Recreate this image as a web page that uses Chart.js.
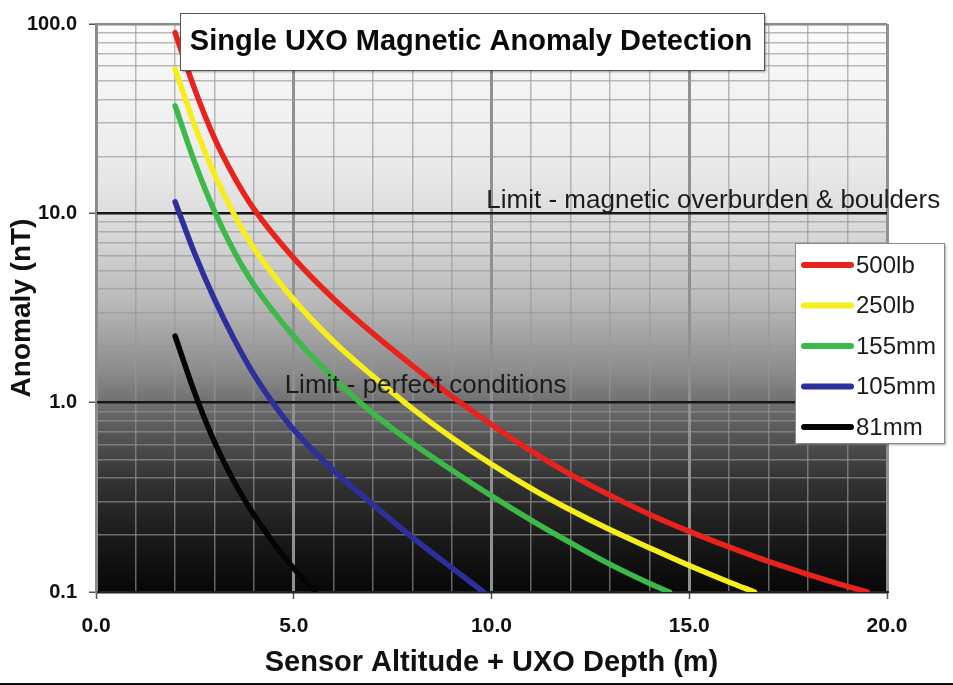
<!DOCTYPE html>
<html>
<head>
<meta charset="utf-8">
<title>Single UXO Magnetic Anomaly Detection</title>
<script src="https://cdn.jsdelivr.net/npm/chart.js@4.4.1/dist/chart.umd.min.js"></script>
<style>
  body { margin: 0; background: #fff; }
  #wrap { width: 953px; height: 685px; }
</style>
</head>
<body>
<div id="wrap"><canvas id="uxoChart" width="953" height="685"></canvas></div>
<script>
// series: depth (m) -> anomaly (nT)
const seriesNames = ['500lb', '250lb', '155mm', '105mm', '81mm']

const depth500 = [2, 2.5, 3, 3.5, 4, 5, 6, 7, 8, 9, 10, 11, 12, 13, 14, 15, 16, 17, 18, 19, 19.5]
const anomaly500 = [90, 45, 24.8, 15.5, 10.5, 5.8, 3.55, 2.32, 1.57, 1.08, 0.767, 0.556, 0.417, 0.324, 0.257, 0.209, 0.173, 0.145, 0.124, 0.107, 0.1]

const depth250 = [2, 2.5, 3, 3.5, 4, 5, 6, 7, 8, 9, 10, 11, 12, 13, 14, 15, 16, 16.65]
const anomaly250 = [58, 29, 16, 9.8, 6.5, 3.5, 2.11, 1.38, 0.93, 0.653, 0.473, 0.353, 0.271, 0.213, 0.171, 0.138, 0.113, 0.1]

const depth155 = [2, 2.5, 3, 3.5, 4, 5, 6, 7, 8, 9, 10, 11, 12, 13, 14, 14.5]
const anomaly155 = [37, 18.5, 10.2, 6.24, 4.17, 2.24, 1.35, 0.88, 0.61, 0.44, 0.322, 0.24, 0.182, 0.14, 0.111, 0.1]

const depth105 = [2, 2.5, 3, 3.5, 4, 4.5, 5, 6, 7, 8, 9, 9.8]
const anomaly105 = [11.5, 6.1, 3.5, 2.15, 1.4, 0.98, 0.72, 0.44, 0.29, 0.194, 0.134, 0.1]

const depth81 = [2, 2.5, 3, 3.5, 4, 4.5, 5, 5.55]
const anomaly81 = [2.25, 1.12, 0.617, 0.38, 0.254, 0.18, 0.133, 0.1]

// axes
const xTickValues = [0, 5, 10, 15, 20]
const yTickValues = [0.1, 1, 10, 100]

// detection limits
const limitLabels = ['Limit - magnetic overburden & boulders', 'Limit - perfect conditions']
const limitValues = [10, 1]
const limitDepths = [9.87, 4.77]

// styles
const seriesColors = ['#e8231d', '#f5ee1c', '#3db94a', '#2e2f9c', '#050505']
const FONT = 'Arial, "Liberation Sans", sans-serif'

Chart.defaults.font.family = FONT

const toPoints = (xs, ys) => xs.map((x, i) => ({x: x, y: ys[i]}))

const allDepths = [depth500, depth250, depth155, depth105, depth81]
const allAnomalies = [anomaly500, anomaly250, anomaly155, anomaly105, anomaly81]

// minor log ticks 0.1 .. 100 for the grid
const yGridTicks = []
yTickValues.slice(0, -1).forEach(d => {
    for (let k = 1; k <= 9; k++) yGridTicks.push(+(k * d).toFixed(1))
})
yGridTicks.push(yTickValues[yTickValues.length - 1])

const backdrop = {
    id: 'backdrop',
    beforeDraw(chart) {
        const {ctx, chartArea: a} = chart
        ctx.save()
        ctx.fillStyle = '#fff'
        ctx.fillRect(0, 0, chart.width, chart.height)
        const g = ctx.createLinearGradient(0, a.top, 0, a.bottom)
        g.addColorStop(0, '#fbfbfb')
        g.addColorStop(0.23, '#ececec')
        g.addColorStop(0.37, '#d8d8d8')
        g.addColorStop(0.49, '#b9b9b9')
        g.addColorStop(0.61, '#8c8c8c')
        g.addColorStop(0.70, '#606060')
        g.addColorStop(0.80, '#343434')
        g.addColorStop(0.91, '#191919')
        g.addColorStop(1, '#070707')
        ctx.fillStyle = g
        ctx.fillRect(a.left, a.top, a.right - a.left, a.bottom - a.top)
        ctx.restore()
    }
}

const overlay = {
    id: 'overlay',
    afterDraw(chart) {
        const {ctx} = chart
        const xs = chart.scales.x
        const ys = chart.scales.y
        const lift = [5, 10]
        ctx.save()

        // limit labels
        ctx.font = '26px ' + FONT
        ctx.fillStyle = '#1c1c1c'
        ctx.textBaseline = 'alphabetic'
        ctx.textAlign = 'left'
        limitLabels.forEach((txt, i) => {
            ctx.fillText(txt, xs.getPixelForValue(limitDepths[i]), ys.getPixelForValue(limitValues[i]) - lift[i])
        })

        // title box
        ctx.shadowColor = 'rgba(0,0,0,0.35)'
        ctx.shadowOffsetX = 2
        ctx.shadowOffsetY = 2
        ctx.shadowBlur = 2
        ctx.fillStyle = '#fff'
        ctx.fillRect(180, 13, 584, 57)
        ctx.shadowColor = 'transparent'
        ctx.strokeStyle = '#555'
        ctx.lineWidth = 1
        ctx.strokeRect(180.5, 13.5, 584, 57)
        ctx.fillStyle = '#0a0a0a'
        ctx.font = 'bold 29px ' + FONT
        ctx.textAlign = 'center'
        ctx.textBaseline = 'middle'
        ctx.fillText('Single UXO Magnetic Anomaly Detection', 471, 42)

        // legend box
        ctx.shadowColor = 'rgba(0,0,0,0.35)'
        ctx.shadowOffsetX = 2
        ctx.shadowOffsetY = 2
        ctx.shadowBlur = 2
        ctx.fillStyle = '#fff'
        ctx.fillRect(795, 243, 149, 200)
        ctx.shadowColor = 'transparent'
        ctx.strokeStyle = '#888'
        ctx.strokeRect(795.5, 243.5, 149, 200)
        ctx.font = '24px ' + FONT
        ctx.textAlign = 'left'
        chart.data.datasets.forEach((ds, i) => {
            const y = 265 + i * 40.5
            ctx.strokeStyle = ds.borderColor
            ctx.lineWidth = 6
            ctx.lineCap = 'round'
            ctx.beginPath()
            ctx.moveTo(804, y)
            ctx.lineTo(851, y)
            ctx.stroke()
            ctx.fillStyle = '#1a1a1a'
            ctx.fillText(ds.label, 856, y + 1)
        })

        // frame line along the bottom of the picture
        ctx.fillStyle = '#111'
        ctx.fillRect(0, chart.height - 2, chart.width, 2)
        ctx.restore()
    }
}

new Chart(document.getElementById('uxoChart'), {
    type: 'line',
    data: {
        datasets: seriesNames.map((name, i) => ({
            label: name,
            data: toPoints(allDepths[i], allAnomalies[i]),
            borderColor: seriesColors[i],
            backgroundColor: seriesColors[i],
            fill: false
        }))
    },
    options: {
        responsive: false,
        animation: false,
        layout: {padding: {top: 20, right: 66, left: 0, bottom: 0}},
        plugins: {
            legend: {display: false},
            title: {display: false},
            tooltip: {enabled: false}
        },
        elements: {
            point: {radius: 0},
            line: {borderWidth: 5.5, borderCapStyle: 'round', borderJoinStyle: 'round', cubicInterpolationMode: 'monotone'}
        },
        scales: {
            x: {
                type: 'linear',
                min: 0,
                max: 20,
                afterFit(s) { s.height = 93 },
                ticks: {
                    stepSize: 1,
                    autoSkip: false,
                    maxRotation: 0,
                    padding: 15,
                    color: '#111',
                    font: {size: 21, weight: 'bold'},
                    callback: v => xTickValues.includes(v) ? v.toFixed(1) : ''
                },
                grid: {
                    color: c => (c.tick && c.tick.value % 5 === 0) ? '#909090' : 'rgba(150,150,150,0.65)',
                    lineWidth: c => (c.tick && c.tick.value % 5 === 0) ? 3 : 1.5,
                    tickLength: 7,
                    tickWidth: 1.5,
                    tickColor: c => (c.tick && c.tick.value % 5 === 0) ? '#555' : 'transparent'
                },
                border: {color: '#222', width: 2},
                title: {
                    display: true,
                    text: 'Sensor Altitude + UXO Depth (m)',
                    color: '#111',
                    font: {size: 29, weight: 'bold'},
                    padding: {top: 0, bottom: 5}
                }
            },
            y: {
                type: 'logarithmic',
                min: 0.1,
                max: 100,
                afterFit(s) { s.width = 96 },
                afterBuildTicks(s) { s.ticks = yGridTicks.map(v => ({value: v})) },
                ticks: {
                    autoSkip: false,
                    padding: 12,
                    color: '#111',
                    font: {size: 20, weight: 'bold'},
                    callback: v => yTickValues.includes(v) ? v.toFixed(1) : ''
                },
                grid: {
                    color: c => {
                        if (!c.tick) return '#888'
                        if (c.tick.value === 100) return '#8a8a8a'
                        return yTickValues.includes(c.tick.value) ? '#161616' : 'rgba(150,150,150,0.65)'
                    },
                    lineWidth: c => (c.tick && yTickValues.includes(c.tick.value)) ? 2.5 : 1.5,
                    tickLength: 7,
                    tickWidth: 1.5,
                    tickColor: c => (c.tick && yTickValues.includes(c.tick.value)) ? '#555' : 'transparent'
                },
                border: {color: '#8a8a8a', width: 2},
                title: {
                    display: true,
                    text: 'Anomaly (nT)',
                    color: '#111',
                    font: {size: 28, weight: 'bold'},
                    padding: {top: 5, bottom: 0}
                }
            }
        }
    },
    plugins: [backdrop, overlay]
})
</script>
</body>
</html>
